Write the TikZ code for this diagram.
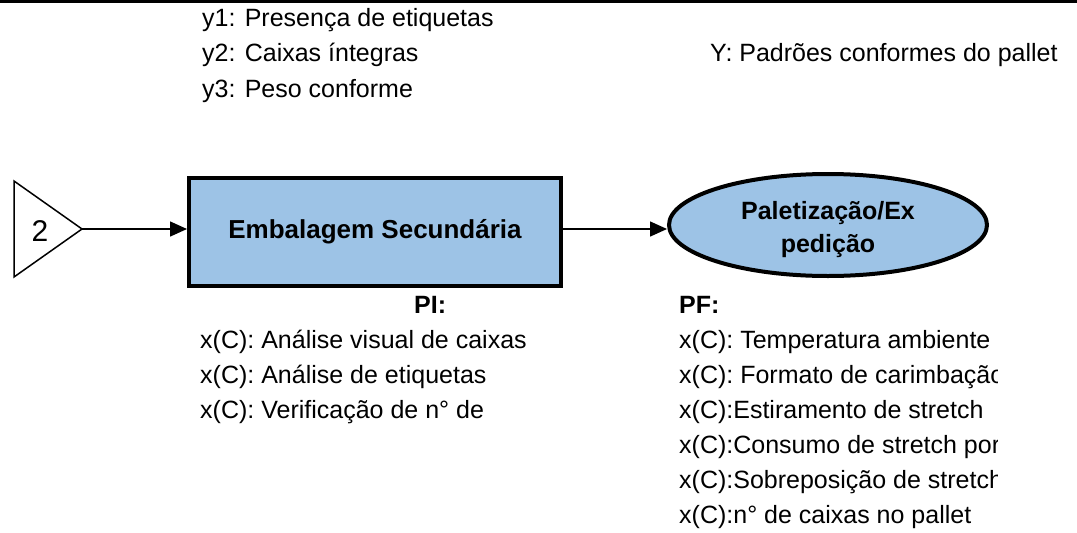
\documentclass[tikz,border=0pt]{standalone}
\usepackage{fontspec}
\setmainfont{Liberation Sans}
\usetikzlibrary{shapes.geometric,arrows.meta}
\definecolor{procblue}{HTML}{9DC3E6}
\tikzset{
  txt/.style={anchor=base west, inner sep=0pt, font=\fontsize{25}{28}\selectfont},
  btxt/.style={anchor=base west, inner sep=0pt, font=\fontsize{25}{28}\selectfont\bfseries},
  flow/.style={line width=1.5pt, -{Triangle[length=17pt,width=15pt]}},
  procbox/.style={draw=black, line width=4pt, fill=procblue, minimum width=372pt, minimum height=108pt, font=\fontsize{26}{30}\selectfont\bfseries},
  procell/.style={ellipse, draw=black, line width=4pt, fill=procblue, minimum width=318pt, minimum height=102pt, align=center, font=\fontsize{25}{33}\selectfont\bfseries, inner sep=0pt}
}
\begin{document}
\begin{tikzpicture}[x=1pt,y=-1pt]
\useasboundingbox (0,0) rectangle (1077,533);
\fill[white] (0,0) rectangle (1077,533);
\draw[line width=3.5pt] (0,1.5) -- (1077,1.5);
% top outputs
\node[txt] (y1) at (202,26) {y1: Presença de etiquetas};
\node[txt] (y2) at (202,61) {y2: Caixas íntegras};
\node[txt] (y3) at (202,97) {y3: Peso conforme};
\node[txt] (Y) at (710,61) {Y: Padrões conformes do pallet};
% triangle connector
\draw[line width=1.5pt, line join=miter] (14,181) -- (82,229) -- (14,277) -- cycle;
\coordinate (tip) at (82,229);
\node[font=\fontsize{30}{34}\selectfont] (two) at (40,231) {2};
% process box
\node[procbox] (box) at (375,232) {Embalagem Secundária};
% ellipse
\node[procell, text depth=0pt] (ell) at (828,225) {\raisebox{-4pt}{Paletização/Ex}\\\raisebox{-4pt}{pedição}};
\draw[flow] (tip) -- (box.west |- tip);
\draw[flow] (box.east |- 0,229) -- (ell.west |- 0,229);
% PI
\node[btxt] (pi) at (414,313) {PI:};
\node[txt] (pi1) at (200,348) {x(C): Análise visual de caixas};
\node[txt] (pi2) at (200,383) {x(C): Análise de etiquetas};
\node[txt] (pi3) at (200,418) {x(C): Verificação de n° de};
% PF
\node[btxt] (pf) at (679,313) {PF:};
\begin{scope}
\clip (670,320) rectangle (997,533);
\node[txt] (pf1) at (679,348) {x(C): Temperatura ambiente};
\node[txt] (pf2) at (679,383) {x(C): Formato de carimbação};
\node[txt] (pf3) at (679,418) {x(C):Estiramento de stretch};
\node[txt] (pf4) at (679,453) {x(C):Consumo de stretch por};
\node[txt] (pf5) at (679,488) {x(C):Sobreposição de stretch};
\node[txt] (pf6) at (679,523) {x(C):n° de caixas no pallet};
\end{scope}
\end{tikzpicture}
\end{document}
